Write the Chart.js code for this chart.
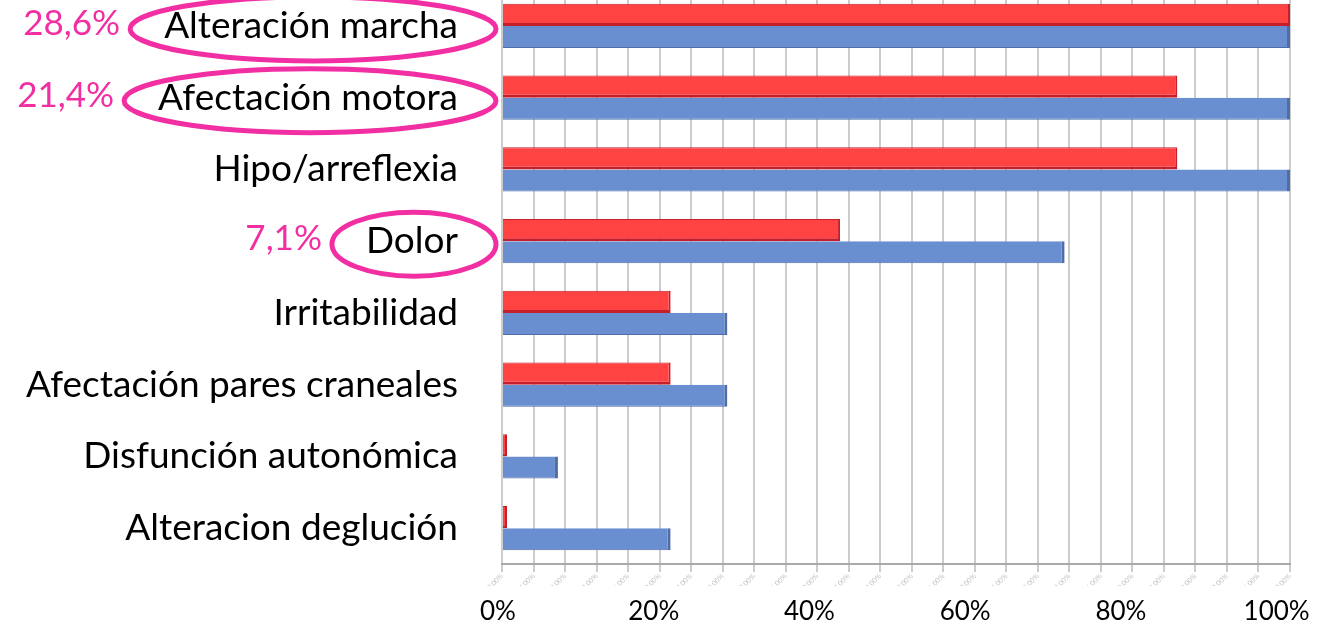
<!DOCTYPE html>
<html>
<head>
<meta charset="utf-8">
<script src="https://cdn.jsdelivr.net/npm/chart.js@4"></script>
<style>
  html, body { margin: 0; padding: 0; background: #fff; }
  #wrap { position: relative; width: 1334px; height: 624px; overflow: hidden; }
  #box { position: absolute; left: 0; top: -10px; width: 1334px; height: 634px; }
</style>
</head>
<body>
<div id="wrap"><div id="box"><canvas id="chart"></canvas></div></div>
<script>
var categories = ['Alteración marcha', 'Afectación motora', 'Hipo/arreflexia', 'Dolor',
                  'Irritabilidad', 'Afectación pares craneales', 'Disfunción autonómica', 'Alteracion deglución'];
var redValues = [100, 85.7, 85.7, 42.9, 21.4, 21.4, 0, 0];
var blueValues = [100, 100, 100, 71.4, 28.6, 28.6, 7.1, 21.4];
var axisLabels = ['0%', '20%', '40%', '60%', '80%', '100%'];
var highlights = [
    { index: 0, text: '28,6%' },
    { index: 1, text: '21,4%' },
    { index: 3, text: '7,1%' }
];

var FONT = 'Lato, "Open Sans", sans-serif';
var PINK = '#f22ea3';

var highlightPlugin = {
    id: 'highlights',
    afterDraw: function(chart) {
        var ctx = chart.ctx;
        var y = chart.scales.y;
        var right = chart.chartArea.left - 44;
        ctx.save();
        highlights.forEach(function(h) {
            ctx.font = '37px ' + FONT;
            var w = ctx.measureText(categories[h.index]).width;
            var cy = y.getPixelForValue(h.index) + 3;
            var cx = right - w / 2 + 2;
            var rx = w / 2 + 36;
            ctx.beginPath();
            ctx.ellipse(cx, cy, rx, 32, 0, 0, Math.PI * 2);
            ctx.lineWidth = 5;
            ctx.strokeStyle = PINK;
            ctx.stroke();
            ctx.font = '35px ' + FONT;
            ctx.fillStyle = PINK;
            ctx.textAlign = 'right';
            ctx.textBaseline = 'middle';
            ctx.fillText(h.text, cx - rx - 10, cy - 5);
        });
        ctx.restore();
    }
};

function noPad(scale) {
    scale.paddingTop = 0;
    scale.paddingBottom = 0;
    scale.paddingLeft = 0;
    scale.paddingRight = 0;
}

new Chart(document.getElementById('chart'), {
    type: 'bar',
    data: {
        labels: categories,
        datasets: [{
            label: 'Grupo 1',
            data: redValues,
            backgroundColor: '#ff4242',
            borderColor: '#c41f2b',
            borderWidth: { top: 1, bottom: 3, right: 2 },
            borderSkipped: 'left',
            minBarLength: 5,
            xAxisID: 'x'
        }, {
            label: 'Grupo 2',
            data: blueValues,
            backgroundColor: '#6a8fd0',
            borderColor: '#4f6ea8',
            borderWidth: { right: 3, bottom: 1 },
            borderSkipped: 'left',
            xAxisID: 'x'
        }]
    },
    options: {
        indexAxis: 'y',
        responsive: true,
        maintainAspectRatio: false,
        animation: false,
        layout: { padding: { top: 0, right: 44, left: 0, bottom: 0 } },
        categoryPercentage: 0.62,
        barPercentage: 1.0,
        plugins: {
            legend: { display: false },
            tooltip: { enabled: false }
        },
        scales: {
            y: {
                grid: { display: false, drawTicks: false },
                border: { display: false },
                ticks: { color: '#000', padding: 44, font: { family: FONT, size: 37 } },
                afterFit: function(scale) { scale.width = 502; noPad(scale); }
            },
            x: {
                position: 'bottom',
                weight: 0,
                min: 0,
                max: 100,
                grid: { color: 'rgba(0,0,0,0.2)', lineWidth: 2, drawTicks: true, tickLength: 8 },
                border: { display: true, color: '#aaaaaa', width: 2 },
                ticks: {
                    stepSize: 4,
                    autoSkip: false,
                    minRotation: 45,
                    maxRotation: 45,
                    color: '#c4c4c4',
                    padding: 0,
                    font: { family: FONT, size: 7 },
                    callback: function(v) { return v.toFixed(2).replace('.', ',') + '%'; }
                },
                afterFit: function(scale) { scale.height = 22; noPad(scale); }
            },
            x2: {
                position: 'bottom',
                weight: 1,
                min: 0,
                max: 101.2,
                grid: { display: false, drawTicks: false },
                border: { display: false },
                ticks: {
                    stepSize: 20,
                    includeBounds: false,
                    labelOffset: -4,
                    color: '#000',
                    padding: 10,
                    font: { family: FONT, size: 26 },
                    callback: function(v) { return axisLabels[v / 20]; }
                },
                afterFit: function(scale) { scale.height = 38; noPad(scale); }
            }
        }
    },
    plugins: [highlightPlugin]
});
</script>
</body>
</html>
